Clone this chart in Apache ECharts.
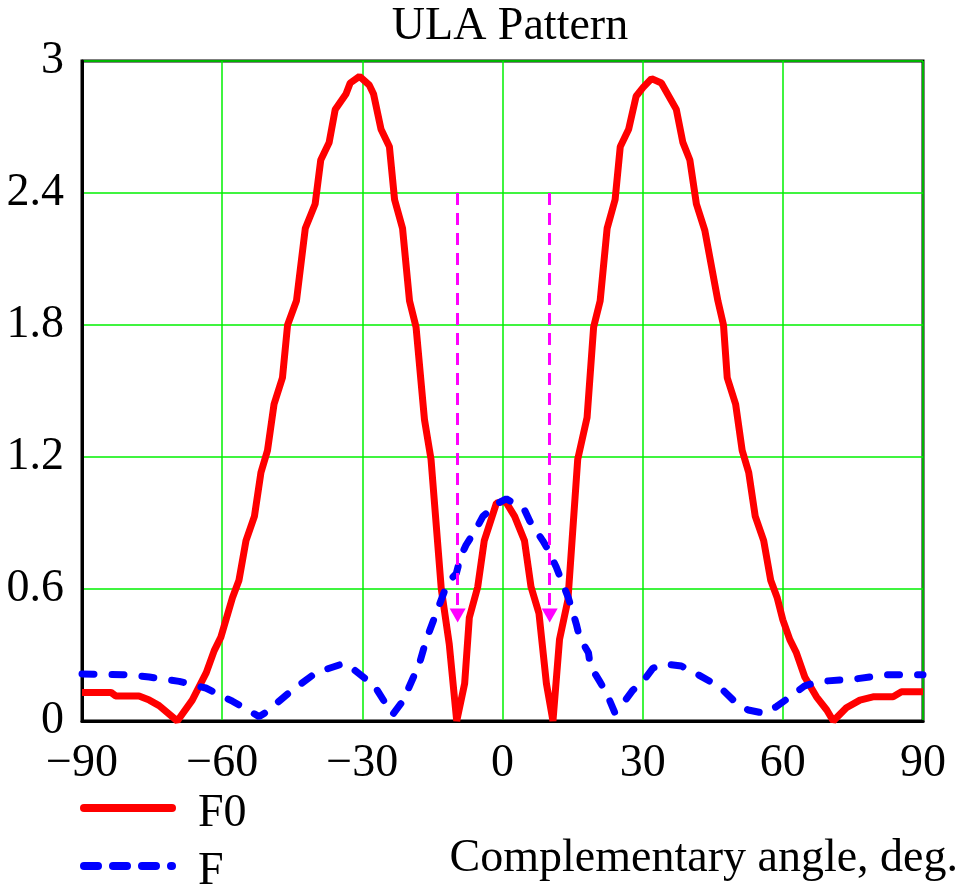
<!DOCTYPE html>
<html>
<head>
<meta charset="utf-8">
<script src="https://cdn.jsdelivr.net/npm/echarts@6/dist/echarts.min.js"></script>
<style>
  html, body { margin: 0; padding: 0; background: #fff; }
  #chart { width: 964px; height: 886px; }
</style>
</head>
<body>
<div id="chart"></div>
<script>
// F0 (solid red)
const f0X = [-90, -83.8, -82.8, -77.8, -75.6, -73.5, -69.6, -66.4, -63.4, -61.7, -60.3, -57.8, -56.4, -54.9,
  -53.1, -51.7, -50.3, -48.9, -47.1, -46.0, -44.1, -42.2, -40.1, -38.9, -37.1, -35.8, -33.5, -32.6, -30.6,
  -28.5, -27.6, -26.0, -24.2, -23.1, -21.4, -19.9, -18.5, -16.7, -15.3, -13.1, -11.4, -9.8, -8.1, -7.1, -5.3,
  -3.9, -1.3, 0.6, 2.6, 4.7, 6.1, 7.8, 9.4, 10.8, 12.2, 14.0, 16.1, 18.1, 19.5, 20.9, 22.4, 24.1, 25.2, 27.0,
  28.6, 30.1, 31.9, 34.0, 37.2, 38.6, 40.1, 41.5, 43.3, 46.1, 47.3, 48.1, 49.9, 51.3, 52.7, 54.1, 55.9, 57.4,
  58.8, 60.0, 61.5, 62.9, 64.7, 67.2, 69.4, 70.8, 73.6, 76.5, 79.3, 83.6, 85.4, 90];
const f0Y = [0.13, 0.13, 0.114, 0.114, 0.095, 0.07, 0.0, 0.095, 0.22, 0.32, 0.38, 0.56, 0.64, 0.82,
  0.93, 1.13, 1.23, 1.44, 1.56, 1.80, 1.91, 2.24, 2.35, 2.55, 2.63, 2.78, 2.85, 2.90, 2.93,
  2.89, 2.85, 2.69, 2.61, 2.37, 2.24, 1.91, 1.79, 1.37, 1.19, 0.60, 0.35, 0.0, 0.17, 0.47, 0.61,
  0.82, 0.99, 1.0, 0.93, 0.82, 0.61, 0.49, 0.17, 0.0, 0.37, 0.55, 1.19, 1.38, 1.79, 1.91, 2.24, 2.37, 2.61, 2.69,
  2.84, 2.88, 2.92, 2.90, 2.78, 2.63, 2.55, 2.35, 2.23, 1.91, 1.80, 1.56, 1.44, 1.23, 1.13, 0.93, 0.82, 0.64,
  0.56, 0.46, 0.37, 0.31, 0.20, 0.11, 0.05, 0.0, 0.06, 0.095, 0.11, 0.11, 0.133, 0.133];

// F (dashed blue)
const fX = [-90, -80, -75.6, -69.2, -63.5, -57.8, -52.1, -50.6, -45.6, -39.9, -34.2, -32.8, -29.2, -27.4,
  -24.6, -23.5, -21.0, -20.3, -17.8, -16.3, -14.2, -13.5, -11.7, -9.9, -8.9, -7.8, -5.6, -4.2, -1.0, 0.8,
  4.7, 5.8, 8.6, 9.7, 11.5, 12.6, 14.0, 14.7, 15.8, 16.5, 18.4, 18.8, 20.8, 22.2, 24.0, 25.1, 27.9, 29.7,
  32.2, 34.7, 38.3, 41.1, 44.4, 47.2, 50.1, 52.6, 56.1, 58.6, 62.2, 64.7, 67.9, 75.1, 82.2, 90];
const fY = [0.214, 0.21, 0.20, 0.18, 0.15, 0.09, 0.02, 0.04, 0.13, 0.22, 0.26, 0.25, 0.19, 0.16,
  0.065, 0.03, 0.10, 0.14, 0.26, 0.37, 0.49, 0.53, 0.63, 0.67, 0.75, 0.80, 0.875, 0.93, 0.99, 1.01,
  0.96, 0.91, 0.82, 0.78, 0.70, 0.64, 0.565, 0.52, 0.44, 0.38, 0.31, 0.25, 0.18, 0.13, 0.04, 0.06, 0.14, 0.17,
  0.24, 0.26, 0.25, 0.22, 0.18, 0.14, 0.08, 0.05, 0.035, 0.065, 0.12, 0.16, 0.18, 0.19, 0.21, 0.21];

// magenta marker arrows
const arrowX = [-9.6, 10.1];
const arrowTop = 2.4;
const arrowBottom = 0.48;

const font = '"Liberation Serif", "Times New Roman", serif';
const gridGreen = "#00f000";

const chart = echarts.init(document.getElementById("chart"));

// hand-drawn legend (line sample + label)
function legendItem(y, name, color, dash) {
  return [
    {
      type: "line",
      shape: { x1: 84, y1: y, x2: 172, y2: y },
      style: { stroke: color, lineWidth: 8, lineCap: "round", lineDash: dash },
    },
    {
      type: "text",
      left: 198,
      top: y - 17,
      style: { text: name, font: "46px " + font, fill: "#000" },
    },
  ];
}

const option = {
  animation: false,
  backgroundColor: "#fff",
  title: {
    text: "ULA Pattern",
    left: 505,
    top: -1,
    textAlign: "center",
    textStyle: { fontFamily: font, fontSize: 46, fontWeight: "normal", color: "#000" },
  },
  graphic: [
    ...legendItem(808, "F0", "#ff0000", null),
    ...legendItem(866, "F", "#0000ff", [14, 15]),
    {
      type: "text",
      right: 6,
      top: 836,
      style: { text: "Complementary angle, deg.", font: "46px " + font, fill: "#000" },
    },
  ],
  grid: {
    left: 82,
    right: 41,
    top: 61,
    bottom: 165,
    show: true,
    borderColor: "#000",
    borderWidth: 3,
  },
  xAxis: {
    type: "value",
    min: -90,
    max: 90,
    interval: 30,
    axisLine: { show: true, onZero: false, lineStyle: { color: "#000", width: 3 } },
    axisTick: { show: false },
    splitLine: { show: true, lineStyle: { color: [gridGreen], width: 1.5 } },
    axisLabel: {
      margin: 20,
      fontFamily: font,
      fontSize: 46,
      color: "#000",
      formatter: (v) => String(v).replace("-", "\u2212"),
    },
  },
  yAxis: {
    type: "value",
    min: 0,
    max: 3,
    interval: 0.6,
    axisLine: { show: true, onZero: false, lineStyle: { color: "#000", width: 3 } },
    axisTick: { show: false },
    splitLine: { show: true, lineStyle: { color: [gridGreen], width: 1.5 } },
    axisLabel: { margin: 18, fontFamily: font, fontSize: 46, color: "#000" },
  },
  series: [
    {
      name: "F0",
      type: "line",
      symbol: "none",
      data: f0X.map((x, i) => [x, f0Y[i]]),
      lineStyle: { color: "#ff0000", width: 7 },
      itemStyle: { color: "#ff0000" },
      z: 3,
    },
    {
      name: "F",
      type: "line",
      symbol: "none",
      data: fX.map((x, i) => [x, fY[i]]),
      lineStyle: { color: "#0000ff", width: 7, type: [12, 18], cap: "round" },
      itemStyle: { color: "#0000ff" },
      z: 4,
      markLine: {
        silent: true,
        symbol: ["none", "triangle"],
        symbolSize: [16, 14],
        label: { show: false },
        lineStyle: { color: "#ff00ff", width: 3, type: [12, 8] },
        data: arrowX.map((x) => [{ coord: [x, arrowTop] }, { coord: [x, arrowBottom] }]),
      },
    },
  ],
};

chart.setOption(option);
</script>
</body>
</html>
